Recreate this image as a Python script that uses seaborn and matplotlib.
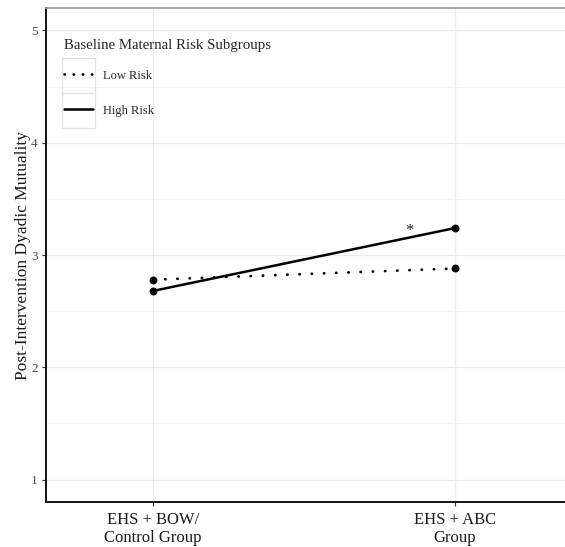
import matplotlib
matplotlib.use("Agg")
import matplotlib.pyplot as plt
import seaborn as sns
import pandas as pd
from matplotlib.patches import Rectangle
from matplotlib.lines import Line2D

groups = ["EHS + BOW/\nControl Group", "EHS + ABC\nGroup"]
risk_levels = ["Low Risk", "High Risk"]
low_risk = [2.78, 2.88]
high_risk = [2.68, 3.24]
y_ticks = [1, 2, 3, 4, 5]

df = pd.DataFrame({
    "group": groups * 2,
    "risk": [risk_levels[0]] * 2 + [risk_levels[1]] * 2,
    "value": low_risk + high_risk,
})
df["group"] = pd.Categorical(df["group"], categories=groups, ordered=True)

sns.set_theme(style="white")
plt.rcParams["font.family"] = ["Liberation Serif", "DejaVu Serif"]

fig = plt.figure(figsize=(5.65, 5.47), dpi=100)
ax = fig.add_axes([46 / 565, 1 - 502 / 547, 1 - 46 / 565, (502 - 8) / 547])

dot_style = (0, (0.1, 4.3))
sns.pointplot(data=df, x="group", y="value", hue="risk", hue_order=risk_levels,
              palette=["black", "black"], linestyles=[dot_style, "-"],
              markers="o", dodge=False, errorbar=None, ax=ax,
              markersize=4.3, linewidth=1.8)
for ln in ax.lines:
    ln.set_dash_capstyle("round")
    ln.set_solid_capstyle("butt")
    if ln.get_linestyle() not in ("-", "None"):
        ln.set_linewidth(2.0)

ax.set_ylim(0.8, 5.2)
ax.set_xlim(-0.354, 1.364)
ax.set_yticks(y_ticks)
ax.set_yticks([1.5, 2.5, 3.5, 4.5], minor=True)
ax.set_yticklabels([str(t) for t in y_ticks])
ax.grid(True, which="major", axis="both", color="#ebebeb", linewidth=0.9)
ax.grid(True, which="minor", axis="y", color="#f2f2f2", linewidth=0.6)
ax.set_axisbelow(True)

ax.tick_params(axis="y", which="major", left=True, length=3, width=0.8, color="#333333",
               labelsize=9.5, labelcolor="#4d4d4d", pad=3)
ax.tick_params(axis="y", which="minor", left=False)
ax.tick_params(axis="x", bottom=True, length=3, width=0.8, color="#333333",
               labelsize=12, labelcolor="#1a1a1a", pad=4)
for lab in ax.get_xticklabels():
    lab.set_linespacing(1.2)

for s in ["left", "bottom"]:
    ax.spines[s].set_color("black")
    ax.spines[s].set_linewidth(1.3)
ax.spines["top"].set_color("#9a9a9a")
ax.spines["top"].set_linewidth(1.2)
ax.spines["right"].set_visible(False)

ax.set_xlabel("")
ax.set_ylabel("Post-Intervention Dyadic Mutuality", fontsize=12.5, color="#1a1a1a", labelpad=0)

# significance marker
ax.text(0.85, 3.21, "*", ha="center", va="center", fontsize=12, color="#222222")

# legend
if ax.get_legend() is not None:
    ax.get_legend().remove()
handles = [Line2D([0], [0], color="black", linestyle=(0, (0.1, 3.2)), linewidth=2.0,
                  dash_capstyle="round"),
           Line2D([0], [0], color="black", linestyle="-", linewidth=1.8)]
leg = ax.legend(handles, risk_levels, title="Baseline Maternal Risk Subgroups",
                loc="upper left", bbox_to_anchor=(0.026, 0.948), frameon=False,
                fontsize=9, title_fontsize=10.7, handlelength=2.3, handletextpad=0.75,
                labelspacing=1.85, borderaxespad=0)
leg._legend_box.align = "left"
leg._legend_box.sep = 13
for r in [(62, 58, 33, 35), (62, 93, 33, 35)]:
    x0, y0, w, h = r
    fig.patches.append(Rectangle((x0 / 565, 1 - (y0 + h) / 547), w / 565, h / 547,
                                 transform=fig.transFigure, fill=False,
                                 edgecolor="#e3e3e3", linewidth=0.9))

fig.savefig("out.png", dpi=100)
